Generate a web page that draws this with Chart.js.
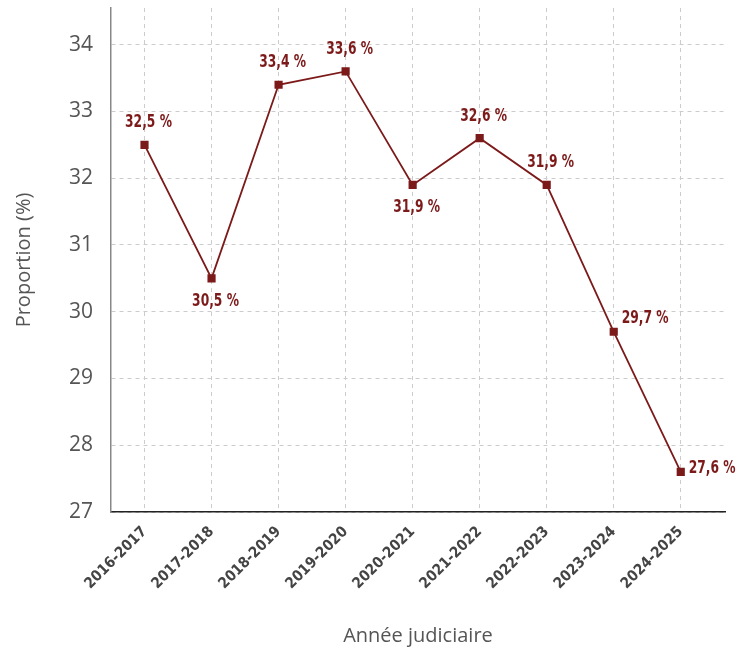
<!DOCTYPE html>
<html>
<head>
<meta charset="utf-8">
<script src="https://cdn.jsdelivr.net/npm/chart.js@4.4.1/dist/chart.umd.min.js"></script>
<style>
  html, body { margin: 0; padding: 0; background: #fff; }
  #wrap { width: 738px; height: 648px; }
</style>
</head>
<body>
<div id="wrap"><canvas id="chart" width="738" height="648"></canvas></div>
<script>
// Données
const annees = ['2016-2017', '2017-2018', '2018-2019', '2019-2020', '2020-2021',
                '2021-2022', '2022-2023', '2023-2024', '2024-2025'];
const proportions = [32.5, 30.5, 33.4, 33.6, 31.9, 32.6, 31.9, 29.7, 27.6];
// où placer l'étiquette de chaque point
const placeEtiquette = ['haut', 'bas', 'haut', 'haut', 'bas', 'haut', 'haut', 'droite', 'droite'];
const ticksY = [27, 28, 29, 30, 31, 32, 33, 34];

const rouge = '#7c1a1a';
const narrow = "'DejaVu Sans Condensed', sans-serif";
const regular = "'Open Sans', 'DejaVu Sans', sans-serif";

// Étiquettes de valeurs (police resserrée à la main)
const etiquettes = {
    id: 'etiquettes',
    afterDatasetsDraw(chart) {
        const ctx = chart.ctx;
        const meta = chart.getDatasetMeta(0);
        const sx = 0.78;
        meta.data.forEach((pt, i) => {
            const txt = proportions[i].toFixed(1).replace('.', ',') + ' %';
            const pos = placeEtiquette[i];
            let x = pt.x + 4, y = pt.y, align = 'center';
            if (pos === 'haut') y = pt.y - 22;
            else if (pos === 'bas') y = pt.y + 23;
            else { x = pt.x + 8; y = pt.y - (i === 7 ? 13 : 3); align = 'left'; }
            ctx.save();
            ctx.fillStyle = rouge;
            ctx.font = 'bold 17.5px ' + narrow;
            ctx.textBaseline = 'middle';
            ctx.textAlign = align;
            ctx.translate(x, y);
            ctx.scale(sx, 1);
            ctx.fillText(txt, 0, 0);
            ctx.restore();
        });
    }
};

const ctx = document.getElementById('chart').getContext('2d');
new Chart(ctx, {
    type: 'line',
    data: {
        datasets: [{
            data: proportions.map((v, i) => ({ x: i, y: v })),
            borderColor: rouge,
            backgroundColor: rouge,
            borderWidth: 1.8,
            pointStyle: 'rect',
            pointRadius: 4.5,
            tension: 0
        }]
    },
    plugins: [etiquettes],
    options: {
        responsive: false,
        animation: false,
        layout: { padding: { top: 8, right: 13, left: 0, bottom: 0 } },
        plugins: { legend: { display: false }, tooltip: { enabled: false } },
        scales: {
            x: {
                type: 'linear',
                min: -0.5,
                max: 8.66,
                afterBuildTicks: (s) => { s.ticks = annees.map((a, i) => ({ value: i })); },
                afterFit: (s) => { s.height = 136; s.paddingLeft = 0; s.paddingRight = 0; },
                ticks: {
                    callback: (v) => annees[v],
                    minRotation: 45, maxRotation: 45,
                    padding: 11,
                    color: '#444',
                    font: { family: narrow, size: 15, weight: 'bold' }
                },
                grid: { color: '#cccccc', drawTicks: false },
                border: { display: true, color: '#222', width: 1.5, dash: [4, 4] },
                title: {
                    display: true, text: 'Année judiciaire',
                    color: '#555', font: { family: regular, size: 20 },
                    padding: { top: 0, bottom: 0 }
                }
            },
            y: {
                min: 27,
                max: 34.55,
                afterBuildTicks: (s) => { s.ticks = ticksY.map(v => ({ value: v })); },
                afterFit: (s) => { s.width = 111; s.paddingTop = 0; s.paddingBottom = 0; },
                ticks: {
                    padding: 18,
                    color: '#555',
                    font: { family: regular, size: 21 }
                },
                grid: { color: '#cccccc', drawTicks: false },
                border: { display: true, color: '#888', width: 1.5, dash: [4, 4] },
                title: {
                    display: true, text: 'Proportion (%)',
                    color: '#555', font: { family: regular, size: 20 },
                    padding: { top: 12, bottom: 0 }
                }
            }
        }
    }
});
</script>
</body>
</html>
